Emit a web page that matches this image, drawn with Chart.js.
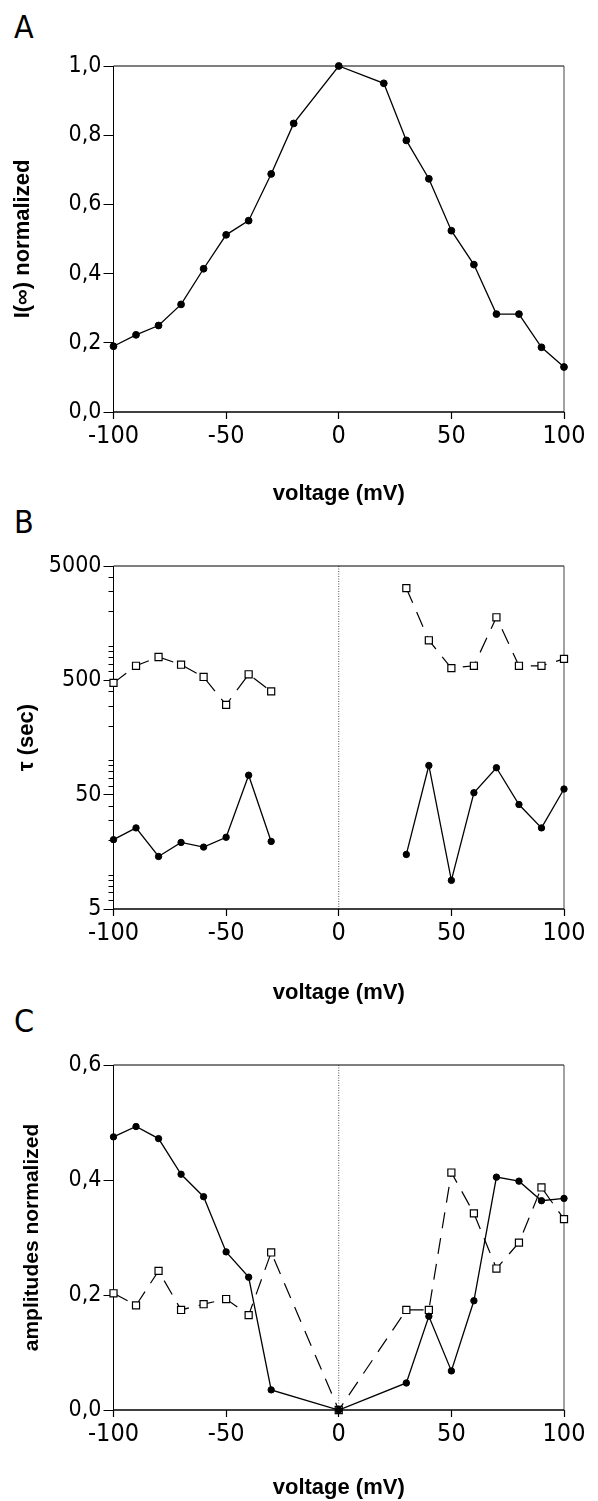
<!DOCTYPE html>
<html>
<head>
<meta charset="utf-8">
<script src="https://cdn.jsdelivr.net/npm/chart.js@4.4.0/dist/chart.umd.min.js"></script>
<style>
  html, body { margin: 0; padding: 0; background: #fff; }
  body { width: 598px; height: 1501px; position: relative; overflow: hidden; }
  .panel { position: absolute; left: 0; width: 598px; }
  .letter {
    position: absolute; left: 14px; line-height: 1;
    font-family: 'Liberation Sans Narrow', 'DejaVu Sans Condensed', sans-serif;
    font-size: 32px; color: #000;
  }
</style>
</head>
<body>
<div class="letter" style="top:11px">A</div>
<div class="letter" style="top:506px">B</div>
<div class="letter" style="top:1005px">C</div>
<div class="panel" style="top:0px"><canvas id="chartA" width="598" height="510"></canvas></div>
<div class="panel" style="top:500px"><canvas id="chartB" width="598" height="510"></canvas></div>
<div class="panel" style="top:1000px"><canvas id="chartC" width="598" height="501"></canvas></div>

<script>
// panel A - steady state current vs voltage
const voltsA = [-100, -90, -80, -70, -60, -50, -40, -30, -20, 0, 20, 30, 40, 50, 60, 70, 80, 90, 100];
const iInf = [0.19, 0.223, 0.25, 0.311, 0.414, 0.512, 0.553, 0.688, 0.834, 1.0, 0.95, 0.785, 0.674, 0.524, 0.426, 0.283, 0.283, 0.187, 0.13];

// panel B - time constants (null = not measured)
const voltsB = [-100, -90, -80, -70, -60, -50, -40, -30, -20, -10, 0, 10, 20, 30, 40, 50, 60, 70, 80, 90, 100];
const tauSlow = [475, 670, 800, 685, 535, 305, 565, 400, null, null, null, null, null, 3200, 1120, 640, 670, 1780, 670, 670, 770];
const tauFast = [20.2, 25.6, 14.4, 19.1, 17.4, 21.2, 74, 19.5, null, null, null, null, null, 15.0, 90, 8.9, 52, 86, 41, 25.6, 56];

// panel C - amplitudes
const voltsC = [-100, -90, -80, -70, -60, -50, -40, -30, 0, 30, 40, 50, 60, 70, 80, 90, 100];
const ampFast = [0.475, 0.493, 0.472, 0.41, 0.371, 0.275, 0.231, 0.035, 0, 0.047, 0.163, 0.068, 0.19, 0.405, 0.398, 0.364, 0.368];
const ampSlow = [0.203, 0.182, 0.242, 0.174, 0.184, 0.193, 0.165, 0.274, 0, 0.174, 0.174, 0.413, 0.342, 0.246, 0.291, 0.387, 0.332];

const xTicks = [-100, -50, 0, 50, 100];
const tauLabels = [5, 50, 500, 5000];

// the narrow face is not always there, fall back to DejaVu condensed with smaller sizes
function hasFont(name) {
    const c = document.createElement('canvas').getContext('2d');
    c.font = "40px '" + name + "', monospace";
    const w = c.measureText('0123456789,').width;
    c.font = '40px monospace';
    return w !== c.measureText('0123456789,').width;
}
const narrow = hasFont('Liberation Sans Narrow');
const tickFamily = narrow ? "'Liberation Sans Narrow', sans-serif" : "'DejaVu Sans Condensed', sans-serif";
const xTickFont = { family: tickFamily, size: narrow ? 27 : 25 };
const yTickFont = { family: tickFamily, size: narrow ? 24 : 23 };
const titleFamily = "'Liberation Sans', Arial, sans-serif";

function pairs(xs, ys) {
    return xs.map((x, i) => ({ x: x, y: ys[i] }));
}

function circles(xs, ys, r) {
    return {
        data: pairs(xs, ys), borderColor: '#000', borderWidth: 1.3,
        pointStyle: 'circle', pointRadius: r, pointBackgroundColor: '#000',
        pointBorderColor: '#000', pointBorderWidth: 1, clip: false
    };
}

function squares(xs, ys) {
    return {
        data: pairs(xs, ys), borderColor: '#000', borderWidth: 1.2, borderDash: [16, 10],
        pointStyle: 'rect', pointRadius: 5, pointBackgroundColor: '#fff',
        pointBorderColor: '#000', pointBorderWidth: 1.2, clip: false
    };
}

// box around the plot, dotted line at 0 mV and short minor ticks on log axis
function framePlugin(zero) {
    return {
        id: 'frame',
        beforeDatasetsDraw(chart) {
            const { ctx, chartArea: a, scales } = chart;
            ctx.save();
            if (zero) {
                const x0 = scales.x.getPixelForValue(0);
                ctx.strokeStyle = '#555';
                ctx.lineWidth = 1;
                ctx.setLineDash([1, 1.5]);
                ctx.beginPath();
                ctx.moveTo(x0, a.top);
                ctx.lineTo(x0, a.bottom);
                ctx.stroke();
                ctx.setLineDash([]);
            }
            ctx.strokeStyle = '#000';
            ctx.lineWidth = 1;
            ctx.beginPath();
            ctx.moveTo(a.left, a.bottom);
            ctx.lineTo(a.left, a.top);
            ctx.lineTo(a.right, a.top);
            ctx.stroke();
            ctx.strokeStyle = '#444';
            ctx.beginPath();
            ctx.moveTo(a.right, a.top);
            ctx.lineTo(a.right, a.bottom);
            ctx.stroke();
            ctx.strokeStyle = '#000';
            ctx.lineWidth = 1.6;
            ctx.beginPath();
            ctx.moveTo(a.left, a.bottom);
            ctx.lineTo(a.right, a.bottom);
            ctx.stroke();
            if (scales.y.type === 'logarithmic') {
                ctx.lineWidth = 1;
                scales.y.ticks.forEach(t => {
                    if (tauLabels.includes(t.value)) return;
                    const y = Math.round(scales.y.getPixelForValue(t.value)) + 0.5;
                    ctx.beginPath();
                    ctx.moveTo(a.left - 5, y);
                    ctx.lineTo(a.left, y);
                    ctx.stroke();
                });
            }
            ctx.restore();
        }
    };
}

function makeChart(id, cfg) {
    return new Chart(document.getElementById(id), {
        type: 'line',
        data: { datasets: cfg.datasets },
        options: {
            responsive: false,
            animation: false,
            layout: { padding: { top: cfg.top, right: 34, left: 0, bottom: 0 } },
            plugins: { legend: { display: false }, tooltip: { enabled: false } },
            scales: {
                x: {
                    type: 'linear', min: -100, max: 100,
                    afterBuildTicks: s => { s.ticks = xTicks.map(v => ({ value: v })); },
                    afterFit: s => { s.height = cfg.xHeight; },
                    ticks: { font: xTickFont, color: '#000', padding: 2, maxRotation: 0, autoSkip: false },
                    grid: { drawOnChartArea: false, tickLength: 7, tickColor: '#000', tickWidth: 1.2 },
                    border: { display: false },
                    title: {
                        display: true, text: 'voltage (mV)', color: '#000',
                        font: { family: titleFamily, weight: 'bold', size: 22 },
                        padding: { top: 0, bottom: cfg.xPad }
                    }
                },
                y: Object.assign({
                    afterFit: s => { s.width = 113.5; },
                    border: { display: false },
                    title: {
                        display: true, text: cfg.yTitle, color: '#000',
                        font: { family: titleFamily, weight: 'bold', size: cfg.yTitleSize },
                        padding: { top: cfg.yPad, bottom: 0 }
                    }
                }, cfg.y)
            }
        },
        plugins: [framePlugin(cfg.zero)]
    });
}

const commaLabel = v => v.toFixed(1).replace('.', ',');

makeChart('chartA', {
    top: 66, xHeight: 98, xPad: 3, yTitle: 'I(\u221E) normalized', yTitleSize: 22, yPad: 10, zero: false,
    datasets: [circles(voltsA, iInf, 3.4)],
    y: {
        type: 'linear', min: 0, max: 1,
        ticks: { stepSize: 0.2, font: yTickFont, color: '#000', padding: 2, callback: commaLabel },
        grid: { drawOnChartArea: false, tickLength: 10, tickColor: '#000' }
    }
});

makeChart('chartB', {
    top: 66, xHeight: 101, xPad: 4, yTitle: '\u03C4 (sec)', yTitleSize: 22, yPad: 14, zero: true,
    datasets: [circles(voltsB, tauFast, 3.2), squares(voltsB, tauSlow)],
    y: {
        type: 'logarithmic', min: 5, max: 5000,
        afterBuildTicks: s => {
            const list = [];
            for (let d = 1; d <= 1000; d *= 10) {
                for (let m = 1; m <= 9; m++) {
                    if (m * d >= 5 && m * d <= 5000) list.push({ value: m * d });
                }
            }
            s.ticks = list;
        },
        ticks: {
            font: yTickFont, color: '#000', padding: 2, autoSkip: false,
            callback: v => tauLabels.includes(v) ? String(v) : ''
        },
        grid: {
            drawOnChartArea: false, tickLength: 10,
            tickColor: c => tauLabels.includes(c.tick.value) ? '#000' : 'rgba(0,0,0,0)'
        }
    }
});

makeChart('chartC', {
    top: 65, xHeight: 91, xPad: 0, yTitle: 'amplitudes normalized', yTitleSize: 21, yPad: 20, zero: true,
    datasets: [circles(voltsC, ampFast, 3.2), squares(voltsC, ampSlow)],
    y: {
        type: 'linear', min: 0, max: 0.6,
        ticks: { stepSize: 0.2, font: yTickFont, color: '#000', padding: 2, callback: commaLabel },
        grid: { drawOnChartArea: false, tickLength: 10, tickColor: '#000' }
    }
});
</script>
</body>
</html>
